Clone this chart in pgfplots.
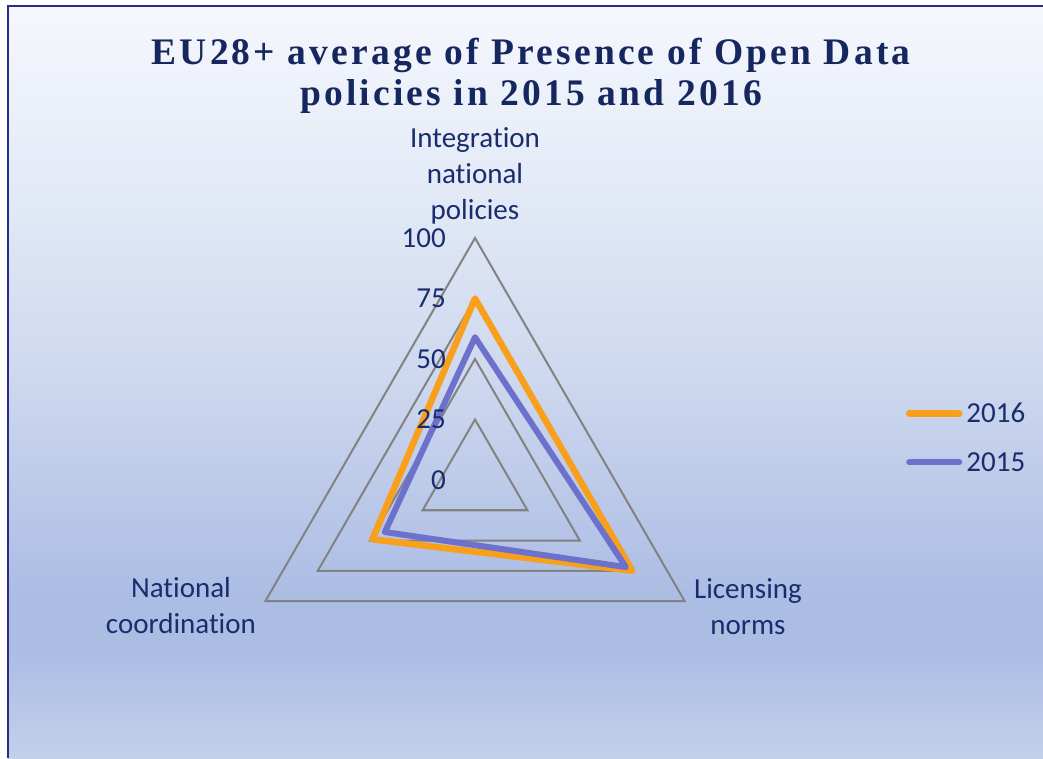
\documentclass[border=0pt]{standalone}
\usepackage{fontspec}
\setmainfont[Ligatures=NoCommon]{Carlito}
\newfontfamily\titlefont[LetterSpace=8.5]{Liberation Serif}
\usepackage{pgfplots}
\pgfplotsset{compat=1.18}
\usepgfplotslibrary{polar}

\definecolor{titlecol}{RGB}{22,38,95}
\definecolor{labelcol}{RGB}{25,45,110}
\definecolor{bordercol}{RGB}{40,45,140}
\definecolor{gridcol}{RGB}{130,130,130}
\definecolor{c2016}{RGB}{248,160,28}
\definecolor{c2015}{RGB}{108,113,204}
\definecolor{bgtop}{RGB}{245,247,252}
\definecolor{bghigh}{RGB}{226,233,246}
\definecolor{bgmid}{RGB}{205,215,238}
\definecolor{bgdark}{RGB}{172,189,228}
\definecolor{bgbot}{RGB}{195,208,234}

\pgfdeclareverticalshading{chartbg}{100bp}{color(0bp)=(bgbot); color(25bp)=(bgbot);
  color(32bp)=(bgdark); color(36bp)=(bgdark); color(50bp)=(bgmid);
  color(62bp)=(bghigh); color(75bp)=(bgtop); color(100bp)=(bgtop)}

\newcommand{\lbl}{\fontsize{29}{36}\selectfont}

\begin{document}
\begin{tikzpicture}
\fill[white] (0pt,0pt) rectangle (1043pt,758pt);
\shade[shading=chartbg] (8pt,0pt) rectangle (1043pt,752pt);
\draw[bordercol, line width=2pt] (8pt,0pt) -- (8pt,752pt) -- (1043pt,752pt);

\node[anchor=base, text=titlecol, font=\titlefont\bfseries\fontsize{37.5}{42}\selectfont]
  at (531pt,693pt) {EU28+ average of Presence of Open Data};
\node[anchor=base, text=titlecol, font=\titlefont\bfseries\fontsize{37.5}{42}\selectfont]
  at (531pt,652pt) {policies in 2015 and 2016};

\begin{axis}[
    at={(475pt,278pt)}, anchor=origin,
    x=2.42pt, y=2.42pt,
    xmin=-120, xmax=120, ymin=-60, ymax=110,
    hide axis, clip=false,
    legend style={at={(axis cs:178,17.4)}, anchor=west, draw=none, fill=none,
        inner sep=0pt, row sep=28pt, column sep=4pt,
        font=\lbl, text=labelcol, nodes={inner sep=0pt}},
    legend cell align=left,
    legend image code/.code={\draw[#1, line cap=round] (3pt,0pt) -- (53pt,0pt);},
]
% triangular grid
\addplot[gridcol, line width=2pt, line join=miter, data cs=polar, forget plot]
  coordinates {(90,25) (210,25) (330,25)} -- cycle;
\addplot[gridcol, line width=2pt, line join=miter, data cs=polar, forget plot]
  coordinates {(90,50) (210,50) (330,50)} -- cycle;
\addplot[gridcol, line width=2pt, line join=miter, data cs=polar, forget plot]
  coordinates {(90,75) (210,75) (330,75)} -- cycle;
\addplot[gridcol, line width=2pt, line join=miter, data cs=polar, forget plot]
  coordinates {(90,100) (210,100) (330,100)} -- cycle;

% series: Integration national policies (90), Licensing norms (330), National coordination (210)
\addplot[c2016, line width=6.5pt, line join=round, data cs=polar]
  coordinates {(90,75) (330,75) (210,49)} -- cycle;
\addlegendentry{2016}
\addplot[c2015, line width=6pt, line join=round, data cs=polar]
  coordinates {(90,59) (330,72) (210,43)} -- cycle;
\addlegendentry{2015}

% radial tick labels
\foreach \v in {0,25,50,75,100} {
  \edef\temp{\noexpand\node[anchor=east, inner sep=0pt, text=labelcol, font=\noexpand\lbl]
    at (axis cs:-12,\v) {\v};}
  \temp
}

% category labels
\node[anchor=north, align=center, inner sep=0pt, text=labelcol, font=\lbl]
  at (axis cs:0,145.9) {Integration\\national\\policies};
\node[anchor=north, align=center, inner sep=0pt, text=labelcol, font=\lbl]
  at (axis cs:-121.5,-40.1) {National\\coordination};
\node[anchor=north, align=center, inner sep=0pt, text=labelcol, font=\lbl]
  at (axis cs:112.8,-40.5) {Licensing\\norms};
\end{axis}

\pgfresetboundingbox
\path (0pt,0pt) rectangle (1043pt,758pt);
\end{tikzpicture}
\end{document}
